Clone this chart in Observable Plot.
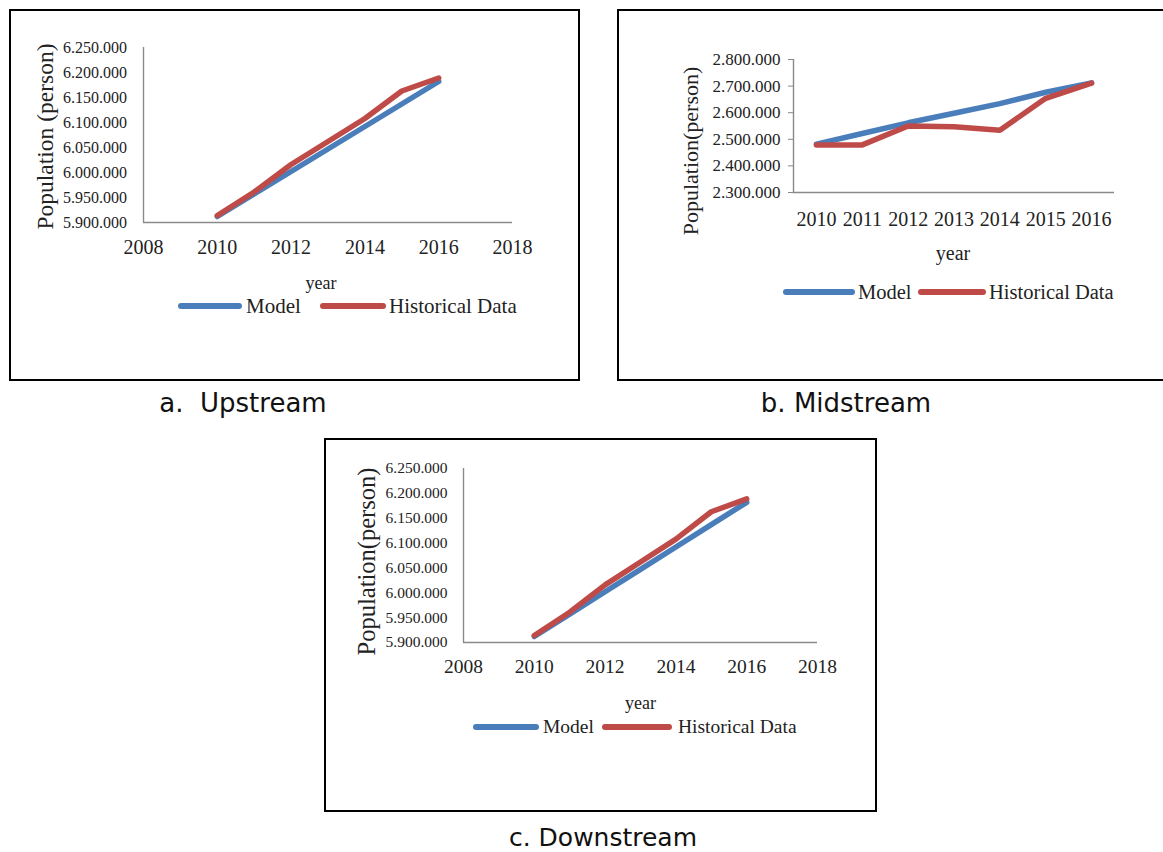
<!DOCTYPE html>
<html><head><meta charset="utf-8">
<script src="https://cdn.jsdelivr.net/npm/d3@7"></script>
<script src="https://cdn.jsdelivr.net/npm/@observablehq/plot@0.6"></script>
<style>
html,body{margin:0;padding:0;background:#fff;}
body{width:1163px;height:852px;position:relative;overflow:hidden;font-family:"Liberation Serif",serif;}
.panel{position:absolute;border:2px solid #000;box-sizing:border-box;background:#fff;}
.panel > svg{position:absolute;left:0;top:0;}
.caption{position:absolute;font-family:"DejaVu Sans",Verdana,sans-serif;font-size:26px;color:#111;white-space:pre;transform:translate(-50%,-50%);line-height:1.1;}
.leg{position:absolute;font-family:"Liberation Serif",serif;color:#222;white-space:pre;line-height:1;transform:translateY(-50%);}
.sw{position:absolute;transform:translateY(-50%);}
</style></head><body>
<script>
// ---- data ----
const years = [2010, 2011, 2012, 2013, 2014, 2015, 2016];
const seriesNames = ["Model", "Historical Data"];
const seriesColors = ["#4a7ebb", "#be4b48"];

const upstreamModel      = [5912000, 5957000, 6002000, 6047000, 6092000, 6137000, 6182000];
const upstreamHistorical = [5914000, 5961000, 6016000, 6062000, 6108000, 6163000, 6189000];

const midstreamModel      = [2482000, 2522000, 2562000, 2598000, 2634000, 2677000, 2712000];
const midstreamHistorical = [2479000, 2479000, 2550000, 2547000, 2534000, 2654000, 2711000];

const downstreamModel      = [5912000, 5957000, 6002000, 6047000, 6092000, 6137000, 6182000];
const downstreamHistorical = [5914000, 5961000, 6016000, 6062000, 6108000, 6163000, 6189000];

const upDownXTicks = [2008, 2010, 2012, 2014, 2016, 2018];
const upDownYTicks = [5900000, 5950000, 6000000, 6050000, 6100000, 6150000, 6200000, 6250000];
const midXTicks = years;
const midYTicks = [2300000, 2400000, 2500000, 2600000, 2700000, 2800000];

const fmt = d3.formatLocale({decimal: ",", thousands: ".", grouping: [3], currency: ["", ""]}).format(",d");

function panel(cfg) {
  const div = document.createElement("div");
  div.className = "panel";
  Object.assign(div.style, {left: cfg.box[0] + "px", top: cfg.box[1] + "px", width: cfg.box[2] + "px", height: cfg.box[3] + "px"});
  document.body.appendChild(div);
  const rows = [];
  seriesNames.forEach((s, i) => cfg.values[i].forEach((v, j) => rows.push({series: s, year: years[j], value: v})));
  const svg = Plot.plot({
    width: cfg.box[2] - 4,
    height: cfg.box[3] - 4,
    marginLeft: cfg.m[0], marginTop: cfg.m[1], marginRight: cfg.m[2], marginBottom: cfg.m[3],
    x: {domain: cfg.xDomain},
    y: {domain: cfg.yDomain},
    color: {domain: seriesNames, range: seriesColors},
    style: {fontFamily: "'Liberation Serif', serif", color: "#222", background: "transparent", overflow: "visible"},
    marks: [
      Plot.axisX({ticks: cfg.xTicks, tickFormat: "d", tickSize: 0, tickPadding: cfg.xPad, fontSize: cfg.xFont, label: null}),
      Plot.axisY({ticks: cfg.yTicks, tickFormat: fmt, tickSize: cfg.yTickSize, tickPadding: cfg.yPad, fontSize: cfg.yFont, stroke: "#888", label: null}),
      Plot.ruleY([cfg.yDomain[0]], {stroke: "#8a8a8a", strokeWidth: 1.4}),
      Plot.ruleX([cfg.xDomain[0]], {stroke: "#8a8a8a", strokeWidth: 1.4}),
      Plot.line(rows, {x: "year", y: "value", z: "series", stroke: "series", strokeWidth: 5.5, strokeLinecap: "round", strokeLinejoin: "round"}),
      Plot.text([cfg.yTitle], {text: d => d, frameAnchor: "left", textAnchor: "middle", lineAnchor: "middle", rotate: -90, dx: cfg.yTitlePos[0], dy: cfg.yTitlePos[1], fontSize: cfg.yTitleFont, fill: "#222"}),
      Plot.text(["year"], {text: d => d, frameAnchor: "bottom", textAnchor: "middle", lineAnchor: "middle", dx: cfg.xTitlePos[0], dy: cfg.xTitlePos[1], fontSize: cfg.xTitleFont, fill: "#222"})
    ]
  });
  div.appendChild(svg);

  // legend (line swatches)
  const L = cfg.legend;
  const items = [
    {kind: "sw", x0: L.blue[0], x1: L.blue[1], color: seriesColors[0]},
    {kind: "tx", x: L.modelX, text: seriesNames[0]},
    {kind: "sw", x0: L.red[0], x1: L.red[1], color: seriesColors[1]},
    {kind: "tx", x: L.histX, text: seriesNames[1]}
  ];
  for (const it of items) {
    if (it.kind === "sw") {
      const w = it.x1 - it.x0;
      const s = d3.create("svg").attr("class", "sw").attr("width", w).attr("height", 8)
        .style("left", it.x0 + "px").style("top", L.y + "px");
      s.append("line").attr("x1", 3).attr("x2", w - 3).attr("y1", 4).attr("y2", 4)
        .attr("stroke", it.color).attr("stroke-width", 6).attr("stroke-linecap", "round");
      document.body.appendChild(s.node());
    } else {
      const t = document.createElement("div");
      t.className = "leg";
      t.textContent = it.text;
      Object.assign(t.style, {left: it.x + "px", top: L.y + "px", fontSize: L.font + "px"});
      document.body.appendChild(t);
    }
  }
}

panel({
  box: [9, 9, 571, 372],
  m: [132, 36, 66, 157],
  values: [upstreamModel, upstreamHistorical],
  xDomain: [2008, 2018], yDomain: [5900000, 6250000],
  xTicks: upDownXTicks, yTicks: upDownYTicks,
  xPad: 17, xFont: 20, yTickSize: 0, yPad: 16.5, yFont: 16,
  yTitle: "Population (person)", yTitlePos: [-98, 1.5], yTitleFont: 23.5,
  xTitlePos: [-7, 61], xTitleFont: 18,
  legend: {y: 306, blue: [178, 242], modelX: 246, red: [320, 386], histX: 389, font: 21}
});

panel({
  box: [617, 9, 560, 372],
  m: [174, 48, 61, 187],
  values: [midstreamModel, midstreamHistorical],
  xDomain: [d3.min(years) - 0.5, d3.max(years) + 0.5], yDomain: [2300000, 2800000],
  xTicks: midXTicks, yTicks: midYTicks,
  xPad: 19.5, xFont: 20, yTickSize: 5, yPad: 8, yFont: 17,
  yTitle: "Population(person)", yTitlePos: [-103, 25], yTitleFont: 22,
  xTitlePos: [-1, 61], xTitleFont: 20,
  legend: {y: 292, blue: [783, 855], modelX: 858, red: [918, 986], histX: 989, font: 20.5}
});

panel({
  box: [324, 438, 553, 374],
  m: [137, 28, 58, 168],
  values: [downstreamModel, downstreamHistorical],
  xDomain: [2008, 2018], yDomain: [5900000, 6250000],
  xTicks: upDownXTicks, yTicks: upDownYTicks,
  xPad: 17, xFont: 19.5, yTickSize: 0, yPad: 16, yFont: 15.5,
  yTitle: "Population(person)", yTitlePos: [-96, 6], yTitleFont: 24.5,
  xTitlePos: [0, 61], xTitleFont: 18,
  legend: {y: 727, blue: [473, 539], modelX: 543, red: [602, 672], histX: 678, font: 19.5}
});

// captions
const captions = [
  {text: "a.  Upstream", x: 243, y: 403},
  {text: "b. Midstream", x: 846, y: 403},
  {text: "c. Downstream", x: 603, y: 838}
];
for (const c of captions) {
  const d = document.createElement("div");
  d.className = "caption";
  d.textContent = c.text;
  d.style.left = c.x + "px";
  d.style.top = c.y + "px";
  d.style.fontSize = (c.text[0] === "c" ? 25 : 26) + "px";
  document.body.appendChild(d);
}
</script>
</body></html>
